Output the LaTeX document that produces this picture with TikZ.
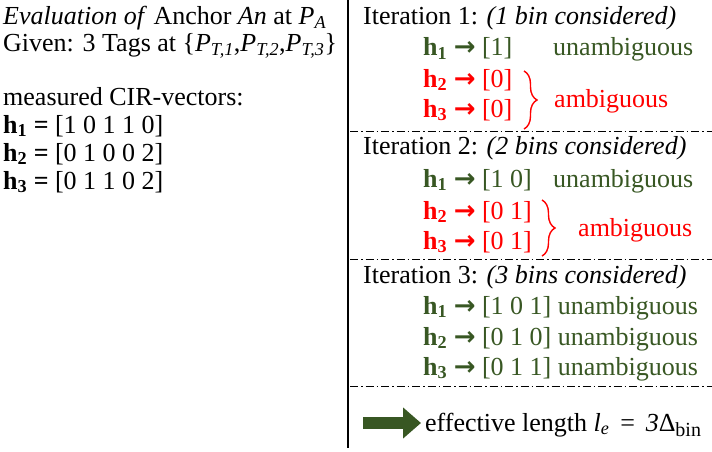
\documentclass[tikz,border=0pt]{standalone}
\usepackage{fontspec}
\setmainfont{Liberation Serif}
\newfontfamily\symf{DejaVu Sans}
\usetikzlibrary{decorations.pathreplacing,arrows.meta}
\definecolor{dgreen}{RGB}{56,87,35}
\definecolor{bred}{RGB}{255,0,0}
\newcommand{\rar}{{\symf\bfseries →}}
\newcommand{\hh}[1]{\textbf{h\textsubscript{#1}}}
\newcommand{\PP}[1]{\textit{P}\textsubscript{\textit{#1}}}
\tikzset{
  txt/.style={anchor=base west, inner sep=0pt, font=\fontsize{26}{30}\selectfont},
  gtxt/.style={txt, text=dgreen},
  rtxt/.style={txt, text=bred},
  sep/.style={line width=0.9pt, dash pattern=on 8pt off 3pt on 1.5pt off 3pt},
  rbrace/.style={draw=bred, line width=1.4pt, decorate, decoration={brace, amplitude=13pt, aspect=0.5}},
}
\begin{document}
\begin{tikzpicture}[x=1pt,y=-1pt]
\useasboundingbox (0,0) rectangle (712,452);
% left column
\node[txt] (l1) at (3,25) {\textit{Evaluation of} Anchor \textit{An} at \PP{A}};
\node[txt] (l2) at (3,52) {Given: 3 Tags at \{\PP{T,1},\PP{T,2},\PP{T,3}\}};
\node[txt] (l3) at (3,105) {measured CIR-vectors:};
\node[txt] (l4) at (3,133) {\textbf{h\textsubscript{1} =} [1 0 1 1 0]};
\node[txt] (l5) at (3,161) {\textbf{h\textsubscript{2} =} [0 1 0 0 2]};
\node[txt] (l6) at (3,189) {\textbf{h\textsubscript{3} =} [0 1 1 0 2]};
% divider
\coordinate (vt) at (348,0);
\coordinate (vb) at (348,448);
\draw[line width=1.3pt] (vt) -- (vb);
% iteration 1
\node[txt] (i1) at (363,25) {Iteration 1: \textit{(1 bin considered)}};
\node[gtxt] (a11) at (423,56) {\hh{1} \rar{} [1]};
\node[gtxt] (u11) at (553,56) {unambiguous};
\node[rtxt] (a12) at (423,87) {\hh{2} \rar{} [0]};
\node[rtxt] (a13) at (423,117) {\hh{3} \rar{} [0]};
\coordinate (b1t) at (524,71);
\coordinate (b1b) at (524,129);
\draw[rbrace] (b1t) -- (b1b);
\node[rtxt, anchor=west] (m1) at (554,101) {ambiguous};
\coordinate (s1l) at (350,131);
\coordinate (s1r) at (712,131);
\draw[sep] (s1l) -- (s1r);
% iteration 2
\node[txt] (i2) at (363,154) {Iteration 2: \textit{(2 bins considered)}};
\node[gtxt] (a21) at (423,187) {\hh{1} \rar{} [1 0]};
\node[gtxt] (u21) at (553,187) {unambiguous};
\node[rtxt] (a22) at (423,219) {\hh{2} \rar{} [0 1]};
\node[rtxt] (a23) at (423,249) {\hh{3} \rar{} [0 1]};
\coordinate (b2t) at (542,200);
\coordinate (b2b) at (542,256);
\draw[rbrace] (b2t) -- (b2b);
\node[rtxt, anchor=west] (m2) at (578,230) {ambiguous};
\coordinate (s2l) at (350,259);
\coordinate (s2r) at (712,259);
\draw[sep] (s2l) -- (s2r);
% iteration 3
\node[txt] (i3) at (363,283) {Iteration 3: \textit{(3 bins considered)}};
\node[gtxt] (a31) at (423,314) {\hh{1} \rar{} [1 0 1] unambiguous};
\node[gtxt] (a32) at (423,345) {\hh{2} \rar{} [0 1 0] unambiguous};
\node[gtxt] (a33) at (423,375) {\hh{3} \rar{} [0 1 1] unambiguous};
\coordinate (s3l) at (350,386);
\coordinate (s3r) at (712,386);
\draw[sep] (s3l) -- (s3r);
% result
\coordinate (ar1) at (363,423);
\coordinate (ar2) at (421,423);
\draw[dgreen, line width=12pt, -{Triangle[length=18pt,width=30pt]}] (ar1) -- (ar2);
\node[txt] (res) at (425,431) {effective length \textit{l}\textsubscript{\textit{e}} \,=\, \textit{3}Δ\textsubscript{\fontsize{20}{20}\selectfont bin}};
\end{tikzpicture}
\end{document}
